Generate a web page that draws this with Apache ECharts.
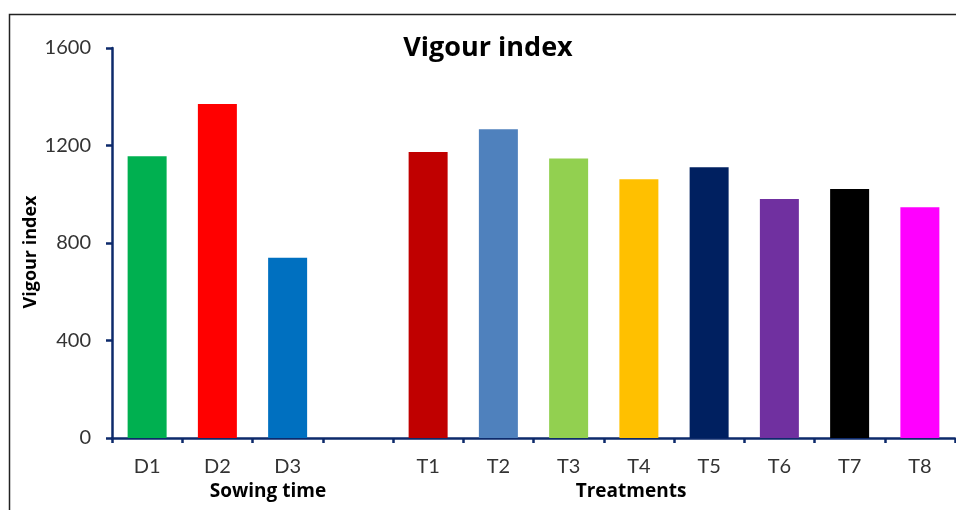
<!DOCTYPE html>
<html>
<head>
<meta charset="utf-8">
<script src="https://cdn.jsdelivr.net/npm/echarts@6/dist/echarts.min.js"></script>
<style>html,body{margin:0;padding:0;background:#fff;}#c{width:956px;height:510px;}</style>
</head>
<body>
<div id="c"></div>
<script>
var categories = ['D1', 'D2', 'D3', '', 'T1', 'T2', 'T3', 'T4', 'T5', 'T6', 'T7', 'T8'];
var vigourValues = [1156, 1370, 740, null, 1173, 1267, 1147, 1062, 1111, 981, 1022, 947];
var barColors = ['#00B050', '#FF0000', '#0070C0', '#ffffff', '#C00000', '#4F81BD', '#92D050', '#FFC000', '#002060', '#7030A0', '#000000', '#FF00FF'];
var yTicks = [0, 400, 800, 1200, 1600];
var titleText = 'Vigour index';
var yAxisTitle = 'Vigour index';
var groupTitles = ['Sowing time', 'Treatments'];

var chart = echarts.init(document.getElementById('c'), null, {renderer: 'canvas'});
var font = 'Lato, "Open Sans", sans-serif';
var boldFont = '"Open Sans", Lato, sans-serif';
var axisColor = '#0D2A6B';
chart.setOption({
  animation: false,
  backgroundColor: '#ffffff',
  title: {
    text: titleText,
    left: 483, top: 30, textAlign: 'center',
    textStyle: {fontFamily: boldFont, fontSize: 27, fontWeight: 'bold', color: '#000'}
  },
  grid: {left: 112, right: 1, top: 48, bottom: 72, containLabel: false},
  xAxis: {
    type: 'category',
    data: categories,
    axisLine: {lineStyle: {color: axisColor, width: 2.5}},
    axisTick: {show: true, length: 5, lineStyle: {color: axisColor, width: 2.5}},
    axisLabel: {fontFamily: font, fontSize: 20, color: '#333', margin: 19}
  },
  yAxis: {
    type: 'value',
    min: yTicks[0], max: yTicks[yTicks.length - 1], interval: 400,
    name: yAxisTitle,
    nameLocation: 'middle',
    nameGap: 72,
    nameMoveOverlap: false,
    nameTextStyle: {fontFamily: boldFont, fontSize: 18, fontWeight: 'bold', color: '#000', padding: [0, 18, 0, 0]},
    axisLine: {show: true, lineStyle: {color: axisColor, width: 2.5}},
    axisTick: {show: true, length: 6, lineStyle: {color: axisColor, width: 2.5}},
    splitLine: {show: false},
    axisLabel: {fontFamily: font, fontSize: 20, color: '#333', margin: 21, formatter: function (v) { return String(v); }}
  },
  series: [{
    type: 'bar',
    data: vigourValues.map(function (v, i) { return {value: v, itemStyle: {color: barColors[i]}}; }),
    barWidth: 39
  }],
  graphic: [
    {type: 'rect', left: 7, top: 12, shape: {width: 960, height: 520}, style: {fill: 'none', stroke: '#222', lineWidth: 1.5}, z: 100},
    {type: 'text', x: 268, y: 492, style: {text: groupTitles[0], font: 'bold 19px ' + boldFont, fill: '#000', textAlign: 'center', textVerticalAlign: 'middle'}},
    {type: 'text', x: 631, y: 492, style: {text: groupTitles[1], font: 'bold 19px ' + boldFont, fill: '#000', textAlign: 'center', textVerticalAlign: 'middle'}}
  ]
});
</script>
</body>
</html>
